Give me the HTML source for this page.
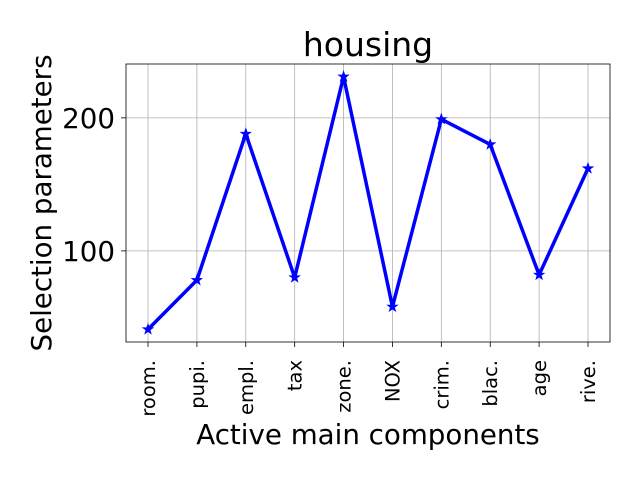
<!DOCTYPE html>
<html><head><meta charset="utf-8"><style>
body{margin:0;background:#fff;}
svg text{font-family:"DejaVu Sans","Liberation Sans",sans-serif;}
</style></head><body>
<svg id="chart" width="640" height="480" xmlns="http://www.w3.org/2000/svg">
<rect width="640" height="480" fill="#fff"/>
<g id="grid"></g>
<g id="axes"></g>
<g id="series"></g>
<text x="368" y="56" font-size="33" text-anchor="middle">housing</text>
<text x="368" y="444" font-size="27.7" text-anchor="middle">Active main components</text>
<text transform="translate(51,203) rotate(-90)" font-size="27.7" text-anchor="middle">Selection parameters</text>
</svg>
<script>
const categories=["room.","pupi.","empl.","tax","zone.","NOX","crim.","blac.","age","rive."];
const values=[41,78,188,80,231,58,199,180,82,162];
const yTicks=[100,200];
const L=126,R=610,T=64,B=342;
const vmin=Math.min(...values),vmax=Math.max(...values),pad=(vmax-vmin)*0.05;
const y0=vmin-pad,y1=vmax+pad;
const n=categories.length,xpad=(n-1)*0.05;
function xs(i){return L+(i+xpad)/(n-1+2*xpad)*(R-L);}
function ys(v){return B-(v-y0)/(y1-y0)*(B-T);}
const NS="http://www.w3.org/2000/svg";
function mk(t,a,p){const e=document.createElementNS(NS,t);for(const k in a)e.setAttribute(k,a[k]);p.appendChild(e);return e;}
const grid=document.getElementById('grid'),axes=document.getElementById('axes'),ser=document.getElementById('series');
categories.forEach((c,i)=>{
 const x=xs(i);
 const g=mk('line',{x1:x,x2:x,y1:T,y2:B,stroke:'#b0b0b0','stroke-width':0.8},grid);
 
 
 const tk=mk('line',{x1:x,x2:x,y1:B,y2:B+5,stroke:'#000','stroke-width':0.8},axes);
 
 
 const t=mk('text',{transform:`translate(${x+7},${B+18}) rotate(-90)`,'font-size':19.5,'text-anchor':'end'},axes);
 t.textContent=c;
 
 
});
yTicks.forEach(v=>{
 const y=ys(v);
 const g=mk('line',{x1:L,x2:R,y1:y,y2:y,stroke:'#b0b0b0','stroke-width':0.8},grid);
 
 
 const tk=mk('line',{x1:L-5,x2:L,y1:y,y2:y,stroke:'#000','stroke-width':0.8},axes);
 
 
 const t=mk('text',{x:L-11,y:y+10,'font-size':27.7,'text-anchor':'end'},axes);
 t.textContent=v;
 
 
});
const frame=mk('rect',{x:L,y:T,width:R-L,height:B-T,fill:'none',stroke:'#000','stroke-width':0.8},axes);


const pts=values.map((v,i)=>xs(i)+','+ys(v)).join(' ');
const line=mk('polyline',{points:pts,fill:'none',stroke:'#0000ff','stroke-width':3.5,'stroke-linejoin':'round'},ser);


function star(cx,cy,r){let p=[];for(let k=0;k<10;k++){const rr=k%2?r*0.4:r;const a=-Math.PI/2+k*Math.PI/5;p.push((cx+rr*Math.cos(a)).toFixed(1)+','+(cy+rr*Math.sin(a)).toFixed(1));}return p.join(' ');}
values.forEach((v,i)=>{
 const m=mk('polygon',{points:star(xs(i),ys(v),5),fill:'#0000ff',stroke:'#0000ff','stroke-width':1},ser);
 
 
});
</script>
</body></html>
